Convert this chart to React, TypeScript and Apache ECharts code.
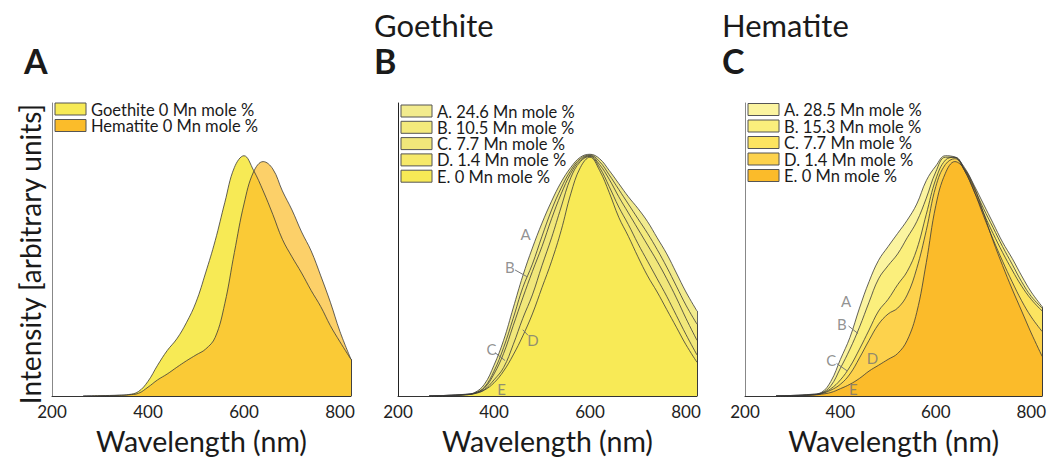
import React, { useEffect, useRef } from "react";
import * as echarts from "echarts";

// ---------- data ----------
const WL = [265, 300, 340, 360, 380, 400, 420, 440, 460, 480, 500, 520, 540, 560, 580, 600, 620, 640, 660, 680, 700, 720, 740, 760, 780, 800, 823];

// Panel A
const A_GOETHITE = [0, 0.001, 0.003, 0.005, 0.015, 0.05, 0.105, 0.155, 0.195, 0.25, 0.32, 0.42, 0.53, 0.66, 0.78, 0.82, 0.77, 0.70, 0.62, 0.535, 0.475, 0.42, 0.36, 0.305, 0.24, 0.185, 0.125];
const A_HEMATITE = [0, 0.001, 0.002, 0.004, 0.009, 0.03, 0.055, 0.075, 0.098, 0.12, 0.14, 0.16, 0.2, 0.315, 0.49, 0.655, 0.765, 0.80, 0.775, 0.70, 0.635, 0.56, 0.495, 0.41, 0.32, 0.22, 0.125];

// Panel B (Goethite)
const B_A = [0, 0.002, 0.006, 0.012, 0.04, 0.105, 0.19, 0.30, 0.41, 0.505, 0.59, 0.665, 0.73, 0.78, 0.815, 0.825, 0.81, 0.77, 0.725, 0.68, 0.64, 0.595, 0.54, 0.485, 0.42, 0.355, 0.29];
const B_B = [0, 0.002, 0.005, 0.01, 0.03, 0.085, 0.165, 0.265, 0.37, 0.45, 0.545, 0.635, 0.71, 0.77, 0.81, 0.822, 0.80, 0.755, 0.705, 0.655, 0.605, 0.555, 0.5, 0.44, 0.375, 0.31, 0.245];
const B_C = [0, 0.002, 0.005, 0.01, 0.027, 0.075, 0.145, 0.24, 0.335, 0.425, 0.51, 0.605, 0.69, 0.76, 0.805, 0.82, 0.79, 0.74, 0.68, 0.625, 0.57, 0.515, 0.46, 0.40, 0.335, 0.265, 0.19];
const B_D = [0, 0.001, 0.004, 0.009, 0.022, 0.055, 0.097, 0.175, 0.265, 0.345, 0.445, 0.54, 0.645, 0.745, 0.80, 0.818, 0.78, 0.715, 0.645, 0.585, 0.52, 0.46, 0.40, 0.34, 0.275, 0.21, 0.14];
const B_E = [0, 0.001, 0.004, 0.008, 0.02, 0.045, 0.085, 0.14, 0.205, 0.28, 0.37, 0.46, 0.565, 0.69, 0.78, 0.815, 0.77, 0.695, 0.61, 0.545, 0.475, 0.41, 0.355, 0.295, 0.235, 0.175, 0.115];

// Panel C (Hematite)
const C_A = [0, 0.002, 0.006, 0.012, 0.05, 0.125, 0.2, 0.3, 0.39, 0.463, 0.51, 0.555, 0.60, 0.655, 0.735, 0.785, 0.82, 0.815, 0.78, 0.72, 0.655, 0.59, 0.525, 0.47, 0.41, 0.355, 0.305];
const C_B = [0, 0.002, 0.005, 0.01, 0.035, 0.095, 0.16, 0.235, 0.32, 0.40, 0.445, 0.485, 0.54, 0.595, 0.675, 0.765, 0.815, 0.815, 0.775, 0.71, 0.64, 0.575, 0.51, 0.45, 0.39, 0.34, 0.30];
const C_C = [0, 0.001, 0.004, 0.009, 0.025, 0.055, 0.10, 0.16, 0.225, 0.29, 0.33, 0.38, 0.425, 0.50, 0.62, 0.74, 0.805, 0.815, 0.77, 0.70, 0.625, 0.555, 0.49, 0.43, 0.375, 0.33, 0.29];
const C_D = [0, 0.001, 0.004, 0.008, 0.02, 0.04, 0.075, 0.13, 0.19, 0.245, 0.28, 0.30, 0.345, 0.435, 0.565, 0.715, 0.79, 0.81, 0.77, 0.70, 0.615, 0.535, 0.46, 0.39, 0.325, 0.27, 0.22];
const C_E = [0, 0.001, 0.003, 0.006, 0.012, 0.025, 0.04, 0.06, 0.085, 0.105, 0.125, 0.145, 0.19, 0.285, 0.455, 0.65, 0.76, 0.80, 0.775, 0.715, 0.625, 0.53, 0.445, 0.365, 0.29, 0.215, 0.135];

const X_TICKS = [200, 400, 600, 800];

const A_NAMES = ["Goethite 0 Mn mole %", "Hematite 0 Mn mole %"];
const B_NAMES = ["A. 24.6 Mn mole %", "B. 10.5 Mn mole %", "C. 7.7 Mn mole %", "D. 1.4 Mn mole %", "E. 0 Mn mole %"];
const C_NAMES = ["A. 28.5 Mn mole %", "B. 15.3 Mn mole %", "C. 7.7 Mn mole %", "D. 1.4 Mn mole %", "E. 0 Mn mole %"];

const A_COLORS = ["#F7EA55", "#FBBC2A"];
const B_COLORS = ["#F2EB8E", "#F4EA7C", "#F1E77A", "#F6E96A", "#F8EA56"];
const C_COLORS = ["#FBF4A0", "#FBEF7C", "#FCE460", "#FDD24C", "#FBBB2A"];

// curve annotations [letter, wavelength, intensity]
const B_LABELS: [string, number, number][] = [["A", 466, 0.554], ["B", 433, 0.44], ["C", 395, 0.16], ["D", 481, 0.19], ["E", 416, 0.023]];
const B_ARROWS: [number, number, number, number][] = [[444, 0.43, 469, 0.407], [402, 0.148, 423, 0.121], [471, 0.207, 460, 0.226]];
const C_LABELS: [string, number, number][] = [["A", 412, 0.325], ["B", 403, 0.247], ["C", 381, 0.122], ["D", 467, 0.128], ["E", 427, 0.024]];
const C_ARROWS: [number, number, number, number][] = [[417, 0.239, 437, 0.213], [392, 0.111, 414, 0.086]];

// ---------- layout ----------
const FONT = 'Lato, "Open Sans", "DejaVu Sans", sans-serif';
const GRIDS = [
  { left: 52, top: 103, width: 299, height: 305 },
  { left: 398, top: 103, width: 299, height: 305 },
  { left: 745, top: 103, width: 298, height: 305 },
];
const Y_AXIS_COLORS = ["#888888", "#222222", "#888888"];

function areaSeries(name: string, vals: number[], color: string, axis: number, opacity = 1) {
  return {
    type: "line",
    name,
    xAxisIndex: axis,
    yAxisIndex: axis,
    data: WL.map((w, i) => [w, vals[i]]),
    smooth: 0.4,
    symbol: "none",
    silent: true,
    lineStyle: { color: "#3a3a3a", width: 0.8 },
    areaStyle: { color, opacity },
    markLine: {
      silent: true,
      symbol: "none",
      label: { show: false },
      lineStyle: { color: "#3a3a3a", width: 0.8, type: "solid" },
      data: [[{ coord: [WL[WL.length - 1], 0] }, { coord: [WL[WL.length - 1], vals[vals.length - 1]] }]],
    },
  };
}

function labelSeries(labels: [string, number, number][], arrows: [number, number, number, number][], axis: number) {
  return {
    type: "scatter",
    xAxisIndex: axis,
    yAxisIndex: axis,
    symbolSize: 0,
    silent: true,
    z: 10,
    data: labels.map(([n, x, y]) => ({ name: n, value: [x, y] })),
    label: {
      show: true,
      position: "inside",
      formatter: (p: any) => p.name,
      color: "#767676",
      fontSize: 15,
      fontFamily: FONT,
    },
    markLine: {
      silent: true,
      symbol: "none",
      label: { show: false },
      lineStyle: { color: "#767676", width: 1, type: "solid" },
      data: arrows.map(([x1, y1, x2, y2]) => [{ coord: [x1, y1] }, { coord: [x2, y2] }]),
    },
  };
}

function legendGraphics(names: string[], colors: string[], x: number, y: number, pitch: number) {
  const out: any[] = [];
  names.forEach((n, i) => {
    out.push({
      type: "rect",
      shape: { x, y: y + i * pitch, width: 31, height: 12 },
      style: { fill: colors[i], stroke: "#555", lineWidth: 1 },
    });
    out.push({
      type: "text",
      x: x + 36,
      y: y + i * pitch + 6.5,
      style: { text: n, fill: "#1a1a1a", font: `16.5px ${FONT}`, textVerticalAlign: "middle", textAlign: "left" },
    });
  });
  return out;
}

export default function App() {
  const ref = useRef<HTMLDivElement>(null);
  useEffect(() => {
    if (!ref.current) return;
    const chart = echarts.init(ref.current, undefined, { renderer: "svg" });
    const xAxes = GRIDS.map((_, i) => ({
      type: "value",
      gridIndex: i,
      min: 200,
      max: WL[WL.length - 1],
      interval: 200,
      name: "Wavelength (nm)",
      nameLocation: "middle",
      nameGap: 30,
      nameTextStyle: { fontSize: 28.5, color: "#1a1a1a", fontFamily: FONT },
      axisLine: { show: true, lineStyle: { color: "#333", width: 1 } },
      axisTick: { show: false },
      splitLine: { show: false },
      axisLabel: {
        fontSize: 17,
        color: "#222",
        fontFamily: FONT,
        margin: 7,
        formatter: (v: number) => (X_TICKS.includes(v) ? String(v) : ""),
      },
    }));
    const yAxes = GRIDS.map((_, i) => ({
      type: "value",
      gridIndex: i,
      min: 0,
      max: 1,
      axisLine: { show: true, lineStyle: { color: Y_AXIS_COLORS[i], width: 1 } },
      axisTick: { show: false },
      axisLabel: { show: false },
      splitLine: { show: false },
    }));
    const series: any[] = [
      areaSeries(A_NAMES[0], A_GOETHITE, A_COLORS[0], 0),
      areaSeries(A_NAMES[1], A_HEMATITE, A_COLORS[1], 0, 0.7),
      ...[B_A, B_B, B_C, B_D, B_E].map((v, i) => areaSeries(B_NAMES[i], v, B_COLORS[i], 1)),
      ...[C_A, C_B, C_C, C_D, C_E].map((v, i) => areaSeries(C_NAMES[i], v, C_COLORS[i], 2)),
      labelSeries(B_LABELS, B_ARROWS, 1),
      labelSeries(C_LABELS, C_ARROWS, 2),
    ];
    const txt = (text: string, x: number, y: number, font: string) => ({
      type: "text",
      x,
      y,
      style: { text, fill: "#1a1a1a", font, textVerticalAlign: "middle", textAlign: "left" },
    });
    const graphic: any[] = [
      txt("A", 24, 60, `bold 34px ${FONT}`),
      txt("B", 374, 60, `bold 34px ${FONT}`),
      txt("C", 722, 60, `bold 34px ${FONT}`),
      txt("Goethite", 374, 25, `31px ${FONT}`),
      txt("Hematite", 722, 25, `31px ${FONT}`),
      {
        type: "text",
        x: 30,
        y: 254,
        rotation: Math.PI / 2,
        style: {
          text: "Intensity [arbitrary units]",
          fill: "#1a1a1a",
          font: `28px ${FONT}`,
          textAlign: "center",
          textVerticalAlign: "middle",
        },
      },
      ...legendGraphics(A_NAMES, A_COLORS, 55, 103, 16.5),
      ...legendGraphics(B_NAMES, B_COLORS, 401, 105, 16.3),
      ...legendGraphics(C_NAMES, C_COLORS, 748, 103.5, 16.5),
    ];
    chart.setOption({
      animation: false,
      backgroundColor: "#ffffff",
      textStyle: { fontFamily: FONT },
      grid: GRIDS,
      xAxis: xAxes,
      yAxis: yAxes,
      series,
      graphic,
    });
    return () => chart.dispose();
  }, []);
  return <div ref={ref} style={{ position: "fixed", left: 0, top: 0, width: 1049, height: 460 }} />;
}
